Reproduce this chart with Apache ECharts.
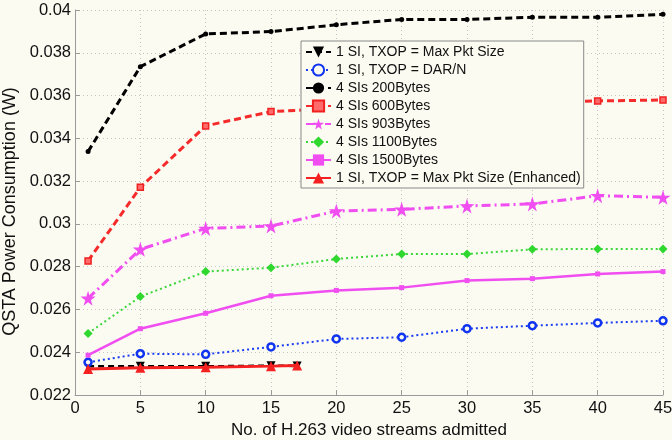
<!DOCTYPE html>
<html>
<head>
<meta charset="utf-8">
<script src="https://cdn.jsdelivr.net/npm/echarts@6/dist/echarts.min.js"></script>
<style>
html,body{margin:0;padding:0;background:#fbfbf1;}
#c{width:672px;height:440px;}
</style>
</head>
<body>
<div id="c"></div>
<script>
// Data
const xShort = [1, 5, 10, 15, 17];
const xFull = [1, 5, 10, 15, 20, 25, 30, 35, 40, 45];
const seriesNames = [
  '1 SI, TXOP = Max Pkt Size',
  '1 SI, TXOP = DAR/N',
  '4 SIs 200Bytes',
  '4 SIs 600Bytes',
  '4 SIs 903Bytes',
  '4 SIs 1100Bytes',
  '4 SIs 1500Bytes',
  '1 SI, TXOP = Max Pkt Size (Enhanced)'
];
const maxPkt = [0.02334, 0.02334, 0.02334, 0.02337, 0.02336];
const darN = [0.02353, 0.02393, 0.02390, 0.02425, 0.02462, 0.02470, 0.02510, 0.02524, 0.02537, 0.02547];
const b200 = [0.03338, 0.03735, 0.03888, 0.03899, 0.03931, 0.03956, 0.03956, 0.03966, 0.03966, 0.03980];
const b600 = [0.02827, 0.03171, 0.03458, 0.03525, 0.03540, 0.03550, 0.03560, 0.03568, 0.03575, 0.03579];
const b903 = [0.02652, 0.02881, 0.02979, 0.02990, 0.03060, 0.03068, 0.03084, 0.03093, 0.03132, 0.03124];
const b1100 = [0.02488, 0.02660, 0.02777, 0.02795, 0.02836, 0.02859, 0.02859, 0.02881, 0.02883, 0.02883];
const b1500 = [0.02386, 0.02510, 0.02582, 0.02664, 0.02689, 0.02702, 0.02735, 0.02744, 0.02766, 0.02777];
const enhanced = [0.02322, 0.02327, 0.02330, 0.02335, 0.02338];
const xTicks = [0, 5, 10, 15, 20, 25, 30, 35, 40, 45];
const yTicks = [0.022, 0.024, 0.026, 0.028, 0.03, 0.032, 0.034, 0.036, 0.038, 0.04];

const STAR = 'path://M50,0 L61,35 L98,35 L68,57 L79,91 L50,70 L21,91 L32,57 L2,35 L39,35 Z';
const pair = (xs, ys) => xs.map((x, i) => [x, ys[i]]);
const FONT = '"Liberation Sans", Arial, Helvetica, sans-serif';

const chart = echarts.init(document.getElementById('c'), null, {renderer: 'canvas'});
chart.setOption({
  backgroundColor: '#fbfbf1',
  animation: false,
  textStyle: {fontFamily: FONT},
  grid: {left: 75, right: 9, top: 10, bottom: 45, containLabel: false, outerBoundsMode: 'none'},
  legend: {
    orient: 'vertical',
    left: 301, top: 41,
    padding: [4, 3, 3, 4],
    itemWidth: 25, itemHeight: 14, itemGap: 4,
    backgroundColor: '#fbfbf1',
    borderColor: '#8a8a8a', borderWidth: 1, borderRadius: 0,
    textStyle: {fontSize: 14, color: '#111', fontFamily: FONT},
    data: seriesNames
  },
  xAxis: {
    type: 'value', min: xTicks[0], max: xTicks[xTicks.length - 1], interval: 5,
    name: 'No. of H.263 video streams admitted',
    nameLocation: 'middle', nameGap: 23,
    nameTextStyle: {fontSize: 17, color: '#111', fontFamily: FONT},
    axisLine: {show: true, lineStyle: {color: '#9a9a9a', width: 1}},
    axisTick: {show: true, inside: true, length: 5, lineStyle: {color: '#9a9a9a'}},
    axisLabel: {fontSize: 16.5, color: '#111', margin: 5, fontFamily: FONT},
    splitLine: {show: true, lineStyle: {color: '#c4c4c4', type: [1, 3], width: 1}}
  },
  yAxis: {
    type: 'value', min: yTicks[0], max: yTicks[yTicks.length - 1], interval: 0.002,
    name: 'QSTA Power Consumption (W)',
    nameLocation: 'middle', nameGap: 50,
    nameTextStyle: {fontSize: 18, color: '#111', fontFamily: FONT, padding: [0, 18, 0, 0]},
    axisLine: {show: true, lineStyle: {color: '#9a9a9a', width: 1}},
    axisTick: {show: true, inside: true, length: 5, lineStyle: {color: '#9a9a9a'}},
    axisLabel: {fontSize: 16.5, color: '#111', margin: 4, fontFamily: FONT,
      formatter: v => String(+v.toFixed(3))},
    splitLine: {show: true, lineStyle: {color: '#c4c4c4', type: [1, 3], width: 1}}
  },
  series: [
    {
      name: seriesNames[0], type: 'line', data: pair(xShort, maxPkt), z: 3,
      symbol: 'triangle', symbolRotate: 180, symbolSize: 9,
      itemStyle: {color: '#000'},
      lineStyle: {color: '#000', width: 2.5, type: [6, 4]}
    },
    {
      name: seriesNames[1], type: 'line', data: pair(xFull, darN),
      symbol: 'circle', symbolSize: 7,
      itemStyle: {color: '#fbfbf1', borderColor: '#1034f0', borderWidth: 2.5},
      lineStyle: {color: '#1a3cf2', width: 2, type: [2, 3]}
    },
    {
      name: seriesNames[2], type: 'line', data: pair(xFull, b200),
      symbol: 'circle', symbolSize: 5,
      itemStyle: {color: '#000'},
      lineStyle: {color: '#000', width: 3, type: [7, 4]}
    },
    {
      name: seriesNames[3], type: 'line', data: pair(xFull, b600),
      symbol: 'rect', symbolSize: 6,
      itemStyle: {color: '#ff6a6a', borderColor: '#f02020', borderWidth: 1.5},
      lineStyle: {color: '#f52a2a', width: 3, type: [7, 4]}
    },
    {
      name: seriesNames[4], type: 'line', data: pair(xFull, b903),
      symbol: STAR, symbolSize: 15,
      itemStyle: {color: '#f04ef0'},
      lineStyle: {color: '#f04ef0', width: 3, type: [9, 4, 2, 4]}
    },
    {
      name: seriesNames[5], type: 'line', data: pair(xFull, b1100),
      symbol: 'diamond', symbolSize: 9,
      itemStyle: {color: '#2ed82e'},
      lineStyle: {color: '#3ad63a', width: 2, type: [2, 3]}
    },
    {
      name: seriesNames[6], type: 'line', data: pair(xFull, b1500),
      symbol: 'rect', symbolSize: 5,
      itemStyle: {color: '#f04ef0'},
      lineStyle: {color: '#f04ef0', width: 2.5, type: 'solid'}
    },
    {
      name: seriesNames[7], type: 'line', data: pair(xShort, enhanced), z: 4,
      symbol: 'triangle', symbolSize: 10,
      itemStyle: {color: '#f52020'},
      lineStyle: {color: '#f52020', width: 3, type: 'solid'}
    }
  ]
});
</script>
</body>
</html>
